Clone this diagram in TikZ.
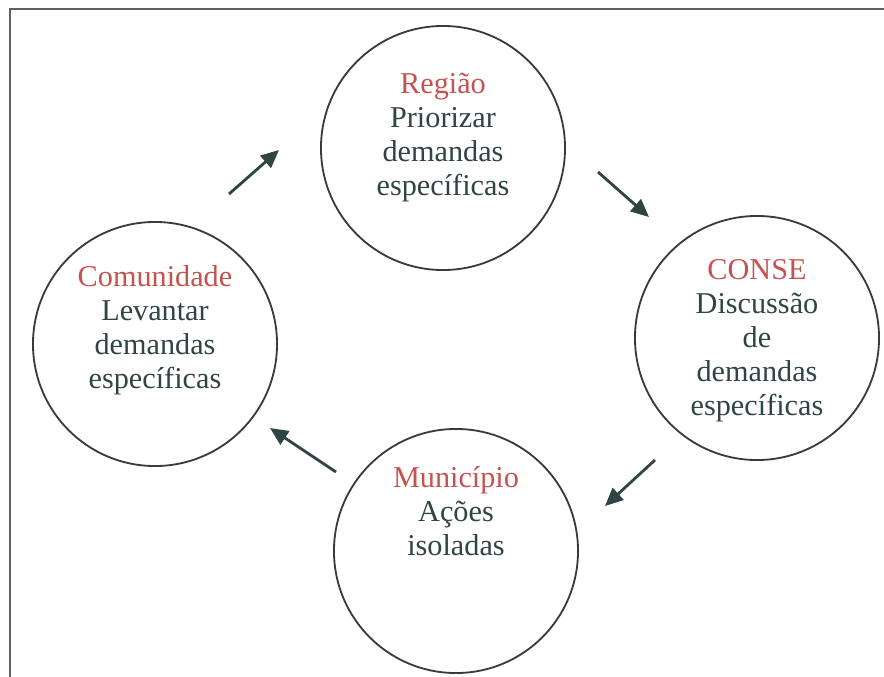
\documentclass[tikz,border=0pt]{standalone}
\usepackage{fontspec}
\setmainfont{Liberation Serif}
\usepackage{xcolor}
\usepackage{tikz}
\usetikzlibrary{arrows.meta,positioning}

\definecolor{labelred}{HTML}{C65250}
\definecolor{inkdark}{HTML}{2F4544}
\definecolor{rimgray}{HTML}{3A3A3A}

\begin{document}
\begin{tikzpicture}[
    x=0.025cm, y=-0.025cm,
    node distance=1.15cm,
    stage/.style={circle, draw=rimgray, line width=1.3pt, minimum size=6.1cm, inner sep=0pt},
    stagetext/.style={align=center, text=inkdark, inner sep=0pt, font=\fontsize{21.5}{24.2}\selectfont},
    head/.style={text=labelred},
    arrow/.style={-{Triangle[length=0.45cm,width=0.4cm]}, line width=2pt, draw=inkdark}
]
\useasboundingbox (0,0) rectangle (884,677);

% Frame
\draw[line width=1.9pt, draw=gray!75!black] (10,677) -- (10,9) -- (884,9);

% Stages
\node[stage] (regiao) at (443,148) {};
\node[stage] (comunidade) at (155,344) {};
\node[stage] (conse) at (757,338) {};
\node[stage] (municipio) at (456,551) {};

% Texts
\node[stagetext, below=1.2cm of regiao.north] (regiaotxt) {{\color{labelred}Região}\\Priorizar\\demandas\\específicas};
\node[stagetext, below=1.1cm of comunidade.north] (comunidadetxt) {{\color{labelred}Comunidade}\\Levantar\\demandas\\específicas};
\node[stagetext, below=1.1cm of conse.north] (consetxt) {{\color{labelred}CONSE}\\Discussão\\de\\demandas\\específicas};
\node[stagetext, below=0.95cm of municipio.north] (municipiotxt) {{\color{labelred}Município}\\Ações\\isoladas};

% Arrow ends
\coordinate (comreg1) at (229,194);
\coordinate (comreg2) at (279,150);
\coordinate (regcon1) at (598,172);
\coordinate (regcon2) at (649,217);
\coordinate (conmun1) at (655,460);
\coordinate (conmun2) at (605,506);
\coordinate (muncom1) at (336,472);
\coordinate (muncom2) at (270,428);

% Arrows
\draw[arrow] (comreg1) -- (comreg2);
\draw[arrow] (regcon1) -- (regcon2);
\draw[arrow] (conmun1) -- (conmun2);
\draw[arrow] (muncom1) -- (muncom2);

\end{tikzpicture}
\end{document}
